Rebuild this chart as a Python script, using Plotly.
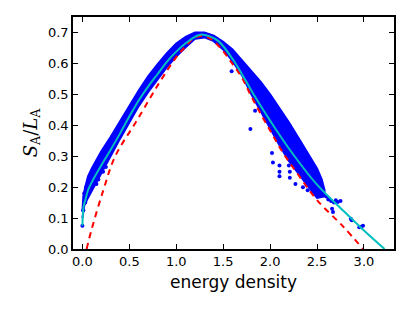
import plotly.graph_objects as go

# Fit curve (cyan)
fit_x = [0.0, 0.014, 0.03, 0.06, 0.10, 0.20, 0.30, 0.40, 0.50, 0.60, 0.70, 0.80, 0.90, 1.00, 1.10, 1.20, 1.26, 1.35, 1.45, 1.61, 1.82, 2.00, 2.20, 2.50, 2.80, 3.00, 3.22]
fit_y = [0.075, 0.140, 0.157, 0.19, 0.216, 0.270, 0.320, 0.373, 0.428, 0.480, 0.525, 0.565, 0.605, 0.638, 0.665, 0.686, 0.693, 0.688, 0.672, 0.610, 0.502, 0.415, 0.325, 0.208, 0.118, 0.060, 0.0]

# Theory curve (red dashed)
th_x = [0.045, 0.10, 0.223, 0.35, 0.58, 0.81, 1.00, 1.10, 1.17, 1.25, 1.35, 1.47, 1.59, 1.70, 1.805, 2.00, 2.14, 2.30, 2.50, 2.78, 2.99]
th_y = [0.0, 0.065, 0.19, 0.30, 0.415, 0.533, 0.620, 0.655, 0.677, 0.688, 0.682, 0.650, 0.602, 0.554, 0.490, 0.383, 0.310, 0.240, 0.158, 0.072, 0.0]

# Dense data cloud: upper and lower envelope
band_up_x = [0.0, 0.01, 0.03, 0.06, 0.10, 0.15, 0.20, 0.30, 0.40, 0.50, 0.60, 0.70, 0.80, 0.90, 1.00, 1.10, 1.20, 1.30, 1.40, 1.50, 1.60, 1.70, 1.80, 1.90, 2.00, 2.10, 2.20, 2.30, 2.40, 2.50, 2.55, 2.58]
band_up_y = [0.12, 0.17, 0.20, 0.235, 0.26, 0.29, 0.315, 0.362, 0.41, 0.462, 0.512, 0.558, 0.597, 0.633, 0.664, 0.686, 0.70, 0.70, 0.69, 0.67, 0.645, 0.61, 0.575, 0.54, 0.50, 0.455, 0.41, 0.36, 0.31, 0.26, 0.225, 0.19]
band_lo_x = [2.58, 2.50, 2.40, 2.30, 2.20, 2.10, 2.00, 1.90, 1.80, 1.70, 1.60, 1.50, 1.40, 1.30, 1.20, 1.10, 1.00, 0.90, 0.80, 0.70, 0.60, 0.50, 0.40, 0.30, 0.20, 0.10, 0.05, 0.02, 0.0]
band_lo_y = [0.17, 0.165, 0.205, 0.245, 0.285, 0.335, 0.39, 0.445, 0.50, 0.562, 0.607, 0.645, 0.672, 0.684, 0.680, 0.652, 0.622, 0.588, 0.548, 0.507, 0.462, 0.41, 0.356, 0.300, 0.245, 0.19, 0.16, 0.14, 0.10]

# Scattered individual points
pts_x = [0.0, 0.01, 0.03, 0.02, 0.04, 0.15, 0.17, 0.22, 0.25, 1.06, 1.59, 1.79, 1.84, 2.02, 2.03, 2.10, 2.10, 2.10, 2.20, 2.21, 2.21, 2.27, 2.35, 2.40,
         2.60, 2.62, 2.65, 2.68, 2.70, 2.72, 2.75, 2.67, 2.66, 2.87, 2.86, 2.97, 2.99, 2.95]
pts_y = [0.075, 0.125, 0.15, 0.18, 0.20, 0.21, 0.225, 0.25, 0.265, 0.647, 0.575, 0.388, 0.447, 0.31, 0.28, 0.27, 0.25, 0.235, 0.27, 0.25, 0.23, 0.21, 0.20, 0.19,
         0.17, 0.16, 0.155, 0.15, 0.158, 0.152, 0.155, 0.12, 0.13, 0.093, 0.098, 0.072, 0.075, 0.07]

x_ticks = [0.0, 0.5, 1.0, 1.5, 2.0, 2.5, 3.0]
y_ticks = [0.0, 0.1, 0.2, 0.3, 0.4, 0.5, 0.6, 0.7]

BLUE = "#0000ff"
fig = go.Figure()
fig.add_trace(go.Scatter(x=band_up_x + band_lo_x, y=band_up_y + band_lo_y, mode="lines",
                         fill="toself", fillcolor=BLUE, line=dict(color=BLUE, width=2),
                         hoverinfo="skip", showlegend=False))
fig.add_trace(go.Scatter(x=pts_x, y=pts_y, mode="markers",
                         marker=dict(color=BLUE, size=4), showlegend=False))
fig.add_trace(go.Scatter(x=th_x, y=th_y, mode="lines", line=dict(color="#ff0000", width=2, dash="6px,5px"),
                         line_shape="spline", showlegend=False))
fig.add_trace(go.Scatter(x=fit_x, y=fit_y, mode="lines", line=dict(color="#00bfbf", width=2),
                         line_shape="spline", showlegend=False))

axis_common = dict(showline=True, linecolor="black", linewidth=1.5, mirror="ticks",
                   ticks="inside", ticklen=5, tickwidth=1, tickcolor="black",
                   showgrid=False, zeroline=False,
                   tickfont=dict(family="DejaVu Sans", size=13, color="black"))
fig.update_xaxes(range=[-0.1, 3.32], tickvals=x_ticks, ticktext=[f"{v:.1f}" for v in x_ticks],
                 title=dict(text="energy density", font=dict(family="DejaVu Sans", size=17, color="black"), standoff=8),
                 **axis_common)
fig.update_yaxes(range=[0, 0.75], tickvals=y_ticks, ticktext=[f"{v:.1f}" for v in y_ticks],
                 title=dict(text="<i>S</i><sub>A</sub>/<i>L</i><sub>A</sub>", font=dict(family="DejaVu Serif", size=18, color="black"), standoff=6),
                 **axis_common)
# page body adds an 8px offset, margins compensate so the plot area lands at (73..394, 15..249)
fig.update_layout(width=415, height=312, margin=dict(l=65, r=29, t=7, b=71),
                  plot_bgcolor="white", paper_bgcolor="white")
fig.write_html("out.html")
